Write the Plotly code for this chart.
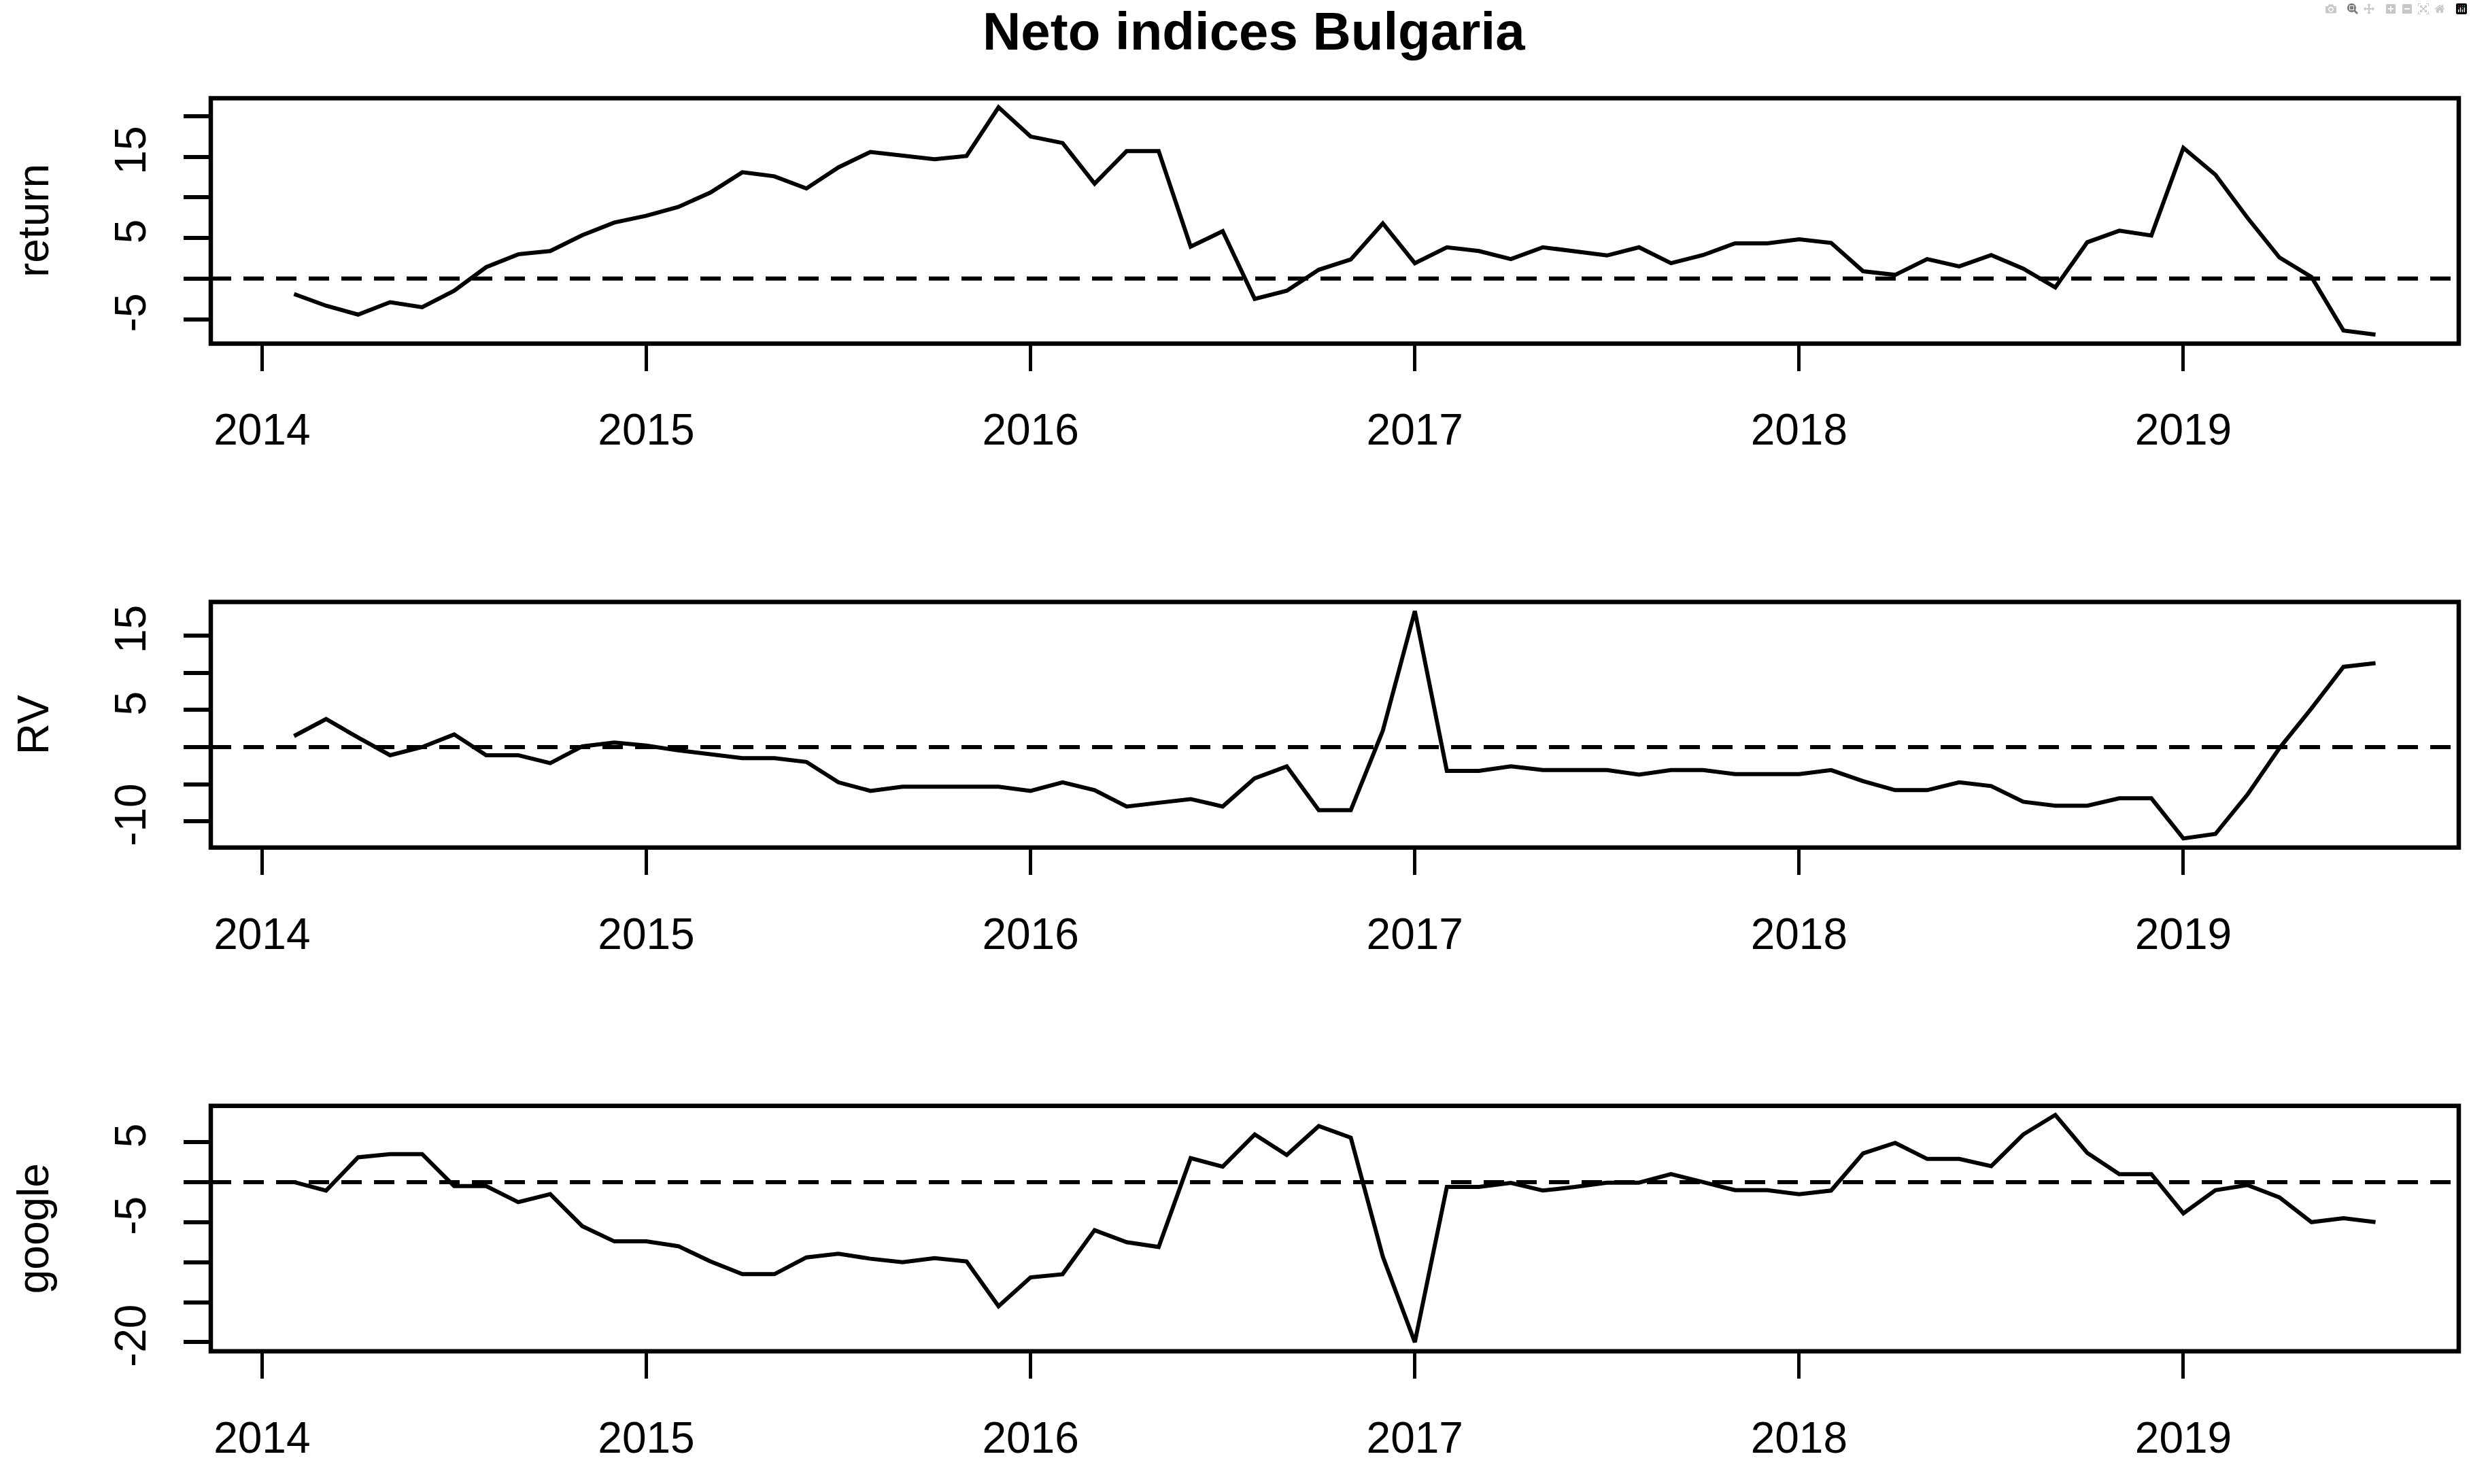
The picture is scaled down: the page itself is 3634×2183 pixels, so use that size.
import plotly.graph_objects as go

# ---------------- data ----------------
start_year = 2014
start_month = 2          # February 2014
n_months = 66            # through July 2019

returns = [-1.9, -3.34, -4.43, -2.9, -3.53, -1.5, 1.41, 2.99, 3.4, 5.35, 6.9, 7.74,
           8.83, 10.6, 13.1, 12.6, 11.1, 13.7, 15.6, 15.2, 14.7, 15.1, 21.1, 17.5,
           16.7, 11.7, 15.7, 15.7, 3.94, 5.84, -2.5, -1.5, 1.09, 2.36, 6.8, 1.9,
           3.86, 3.4, 2.4, 3.86, 3.3, 2.85, 3.86, 1.9, 2.9, 4.35, 4.35, 4.84,
           4.4, 0.9, 0.46, 2.4, 1.5, 2.9, 1.22, -1.09, 4.48, 5.9, 5.3, 16.1,
           12.8, 7.5, 2.6, 0.2, -6.4, -6.9]

rv = [1.48, 3.77, 1.28, -1.1, 0.0, 1.7, -1.1, -1.1, -2.17, 0.09, 0.6, 0.2,
      -0.45, -1.0, -1.5, -1.5, -2.0, -4.75, -5.9, -5.34, -5.34, -5.34, -5.34, -5.9,
      -4.75, -5.8, -8.0, -7.5, -7.0, -8.0, -4.2, -2.6, -8.5, -8.5, 2.2, 18.3,
      -3.2, -3.2, -2.6, -3.1, -3.1, -3.1, -3.7, -3.1, -3.1, -3.65, -3.65, -3.65,
      -3.1, -4.6, -5.8, -5.8, -4.75, -5.25, -7.36, -7.9, -7.9, -6.9, -6.9, -12.3,
      -11.7, -6.4, -0.15, 5.2, 10.8, 11.3]

google = [0.0, -1.05, 3.1, 3.5, 3.5, -0.5, -0.5, -2.5, -1.5, -5.5, -7.4, -7.4,
          -8.0, -9.9, -11.5, -11.5, -9.4, -8.95, -9.57, -10.0, -9.5, -9.9, -15.5, -11.9,
          -11.5, -6.0, -7.5, -8.1, 3.0, 1.94, 5.96, 3.4, 7.0, 5.56, -9.3, -20.0,
          -0.6, -0.6, -0.1, -1.05, -0.6, -0.06, -0.06, 1.0, 0.0, -1.0, -1.0, -1.5,
          -1.05, 3.6, 4.9, 2.9, 2.9, 2.0, 5.96, 8.4, 3.64, 1.0, 1.0, -3.9,
          -1.0, -0.37, -1.9, -5.0, -4.5, -5.0]

x_tickvals = [2014, 2015, 2016, 2017, 2018, 2019]
x_ticktext = ["2014", "2015", "2016", "2017", "2018", "2019"]

ret_tickvals = [-5, 0, 5, 10, 15, 20]
ret_ticktext = ["-5", "", "5", "", "15", ""]
rv_tickvals = [-10, -5, 0, 5, 10, 15]
rv_ticktext = ["-10", "", "", "5", "", "15"]
gg_tickvals = [-20, -15, -10, -5, 0, 5]
gg_ticktext = ["-20", "", "", "-5", "", "5"]

panel_names = ["return", "RV", "google"]
title_text = "Neto indices Bulgaria"

# ---------------- layout helpers ----------------
W, H = 3634, 2183
time = [start_year + (start_month - 1 + i) / 12 for i in range(n_months)]


def r_range(vals):
    lo, hi = min(vals), max(vals)
    d = (hi - lo) * 0.04
    return [lo - d, hi + d]


x_range = r_range(time)
x_dom = [310 / W, 3616 / W]
panels_px = [(146, 511), (895, 1260), (1644, 2009)]
y_doms = [[1 - b / H, 1 - t / H] for t, b in panels_px]

FONT = "Liberation Sans, Arial, Helvetica, sans-serif"
TICKFONT = dict(family=FONT, size=64, color="black")

series = [returns, rv, google]
yticks = [(ret_tickvals, ret_ticktext), (rv_tickvals, rv_ticktext), (gg_tickvals, gg_ticktext)]

fig = go.Figure()
layout = dict(
    width=W, height=H,
    margin=dict(l=0, r=0, t=0, b=0),
    paper_bgcolor="white", plot_bgcolor="white",
    showlegend=False,
    shapes=[], annotations=[],
)

for k in range(3):
    sfx = "" if k == 0 else str(k + 1)
    fig.add_trace(go.Scatter(
        x=time, y=series[k], mode="lines",
        line=dict(color="black", width=6),
        xaxis="x" + sfx, yaxis="y" + sfx, hoverinfo="skip",
    ))
    layout["xaxis" + sfx] = dict(
        domain=x_dom, range=x_range, anchor="y" + sfx,
        tickvals=x_tickvals, ticktext=x_ticktext,
        ticks="outside", ticklen=39, tickwidth=5, tickcolor="black",
        tickfont=TICKFONT, ticklabelstandoff=32,
        showgrid=False, zeroline=False, showline=False,
    )
    tv, tt = yticks[k]
    layout["yaxis" + sfx] = dict(
        domain=y_doms[k], range=r_range(series[k]), anchor="x" + sfx,
        tickvals=tv, ticktext=tt, tickangle=-90,
        ticks="outside", ticklen=39, tickwidth=6, tickcolor="black",
        tickfont=TICKFONT, ticklabelstandoff=30,
        showgrid=False, zeroline=False, showline=False,
    )
    # zero reference line
    layout["shapes"].append(dict(
        type="line", xref="x" + sfx + " domain", yref="y" + sfx,
        x0=0, x1=1, y0=0, y1=0,
        line=dict(color="black", width=6, dash="30px,18px"),
    ))
    # box
    layout["shapes"].append(dict(
        type="rect", xref="x" + sfx + " domain", yref="y" + sfx + " domain",
        x0=0, x1=1, y0=0, y1=1,
        line=dict(color="black", width=6.5),
    ))
    # y-axis title
    t, b = panels_px[k]
    layout["annotations"].append(dict(
        text=panel_names[k], xref="paper", yref="paper",
        x=49 / W, y=1 - ((t + b) / 2) / H,
        xanchor="center", yanchor="middle", textangle=-90, showarrow=False,
        font=dict(family=FONT, size=64, color="black"),
    ))

layout["annotations"].append(dict(
    text="<b>" + title_text + "</b>", xref="paper", yref="paper",
    x=1844 / W, y=1 - 46 / H, xanchor="center", yanchor="middle", showarrow=False,
    font=dict(family=FONT, size=78, color="black"),
))

fig.update_layout(**layout)
fig.write_html("out.html", post_script="document.body.style.margin='0';")
